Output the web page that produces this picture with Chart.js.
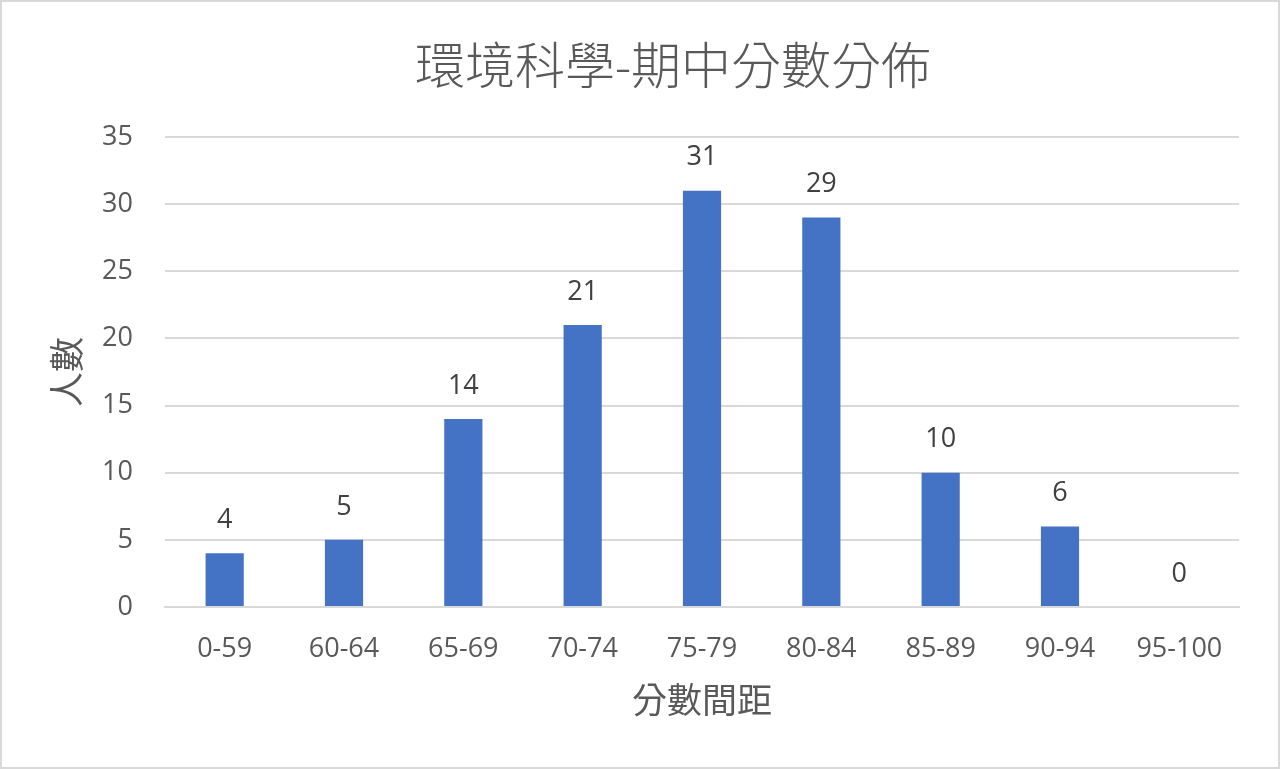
<!DOCTYPE html>
<html>
<head>
<meta charset="utf-8">
<script src="https://cdn.jsdelivr.net/npm/chart.js@4"></script>
<style>
  body { margin: 0; background: #fff; }
  .box { width: 1280px; height: 769px; box-sizing: border-box; border: 2px solid #d9d9d9; background: #fff; }
</style>
</head>
<body>
<div class="box"><canvas id="scoreChart"></canvas></div>
<script>
const categories = ['0-59', '60-64', '65-69', '70-74', '75-79', '80-84', '85-89', '90-94', '95-100']
const counts = [4, 5, 14, 21, 31, 29, 10, 6, 0]
const yTicks = [0, 5, 10, 15, 20, 25, 30, 35]
const chartTitle = '環境科學-期中分數分佈'

const fontFamily = '"Open Sans", "Noto Sans CJK TC", sans-serif'

// draws the number above each bar, like the excel data labels
const barLabels = {
    id: 'barLabels',
    afterDatasetsDraw(chart) {
        const ctx = chart.ctx
        const meta = chart.getDatasetMeta(0)
        ctx.save()
        ctx.font = '27px ' + fontFamily
        ctx.fillStyle = '#404040'
        ctx.textAlign = 'center'
        ctx.textBaseline = 'middle'
        meta.data.forEach((bar, i) => {
            ctx.fillText(counts[i], bar.x, bar.y - 33)
        })
        ctx.restore()
    }
}

// excel puts the title a bit left of the plot centre, so draw it by hand
const titleText = {
    id: 'titleText',
    afterDraw(chart) {
        const ctx = chart.ctx
        ctx.save()
        ctx.font = '300 50px ' + fontFamily
        ctx.fillStyle = '#595959'
        ctx.textAlign = 'center'
        ctx.textBaseline = 'middle'
        ctx.fillText(chartTitle, chart.width / 2 + 33, 68)
        ctx.restore()
    }
}

const ctx = document.querySelector('#scoreChart')
const chart = new Chart(ctx, {
    type: 'bar',
    data: {
        labels: categories,
        datasets: [{
            data: counts,
            backgroundColor: '#4472c4',
            borderWidth: 0,
            barPercentage: 0.32,
            categoryPercentage: 1
        }]
    },
    options: {
        responsive: true,
        maintainAspectRatio: false,
        animation: false,
        layout: { padding: { left: 47, right: 39, bottom: 43, top: 135 } },
        plugins: {
            legend: { display: false },
            tooltip: { enabled: false },
            title: { display: false }
        },
        scales: {
            x: {
                afterFit: scale => { scale.height = 117 },
                grid: { display: false, drawTicks: false },
                border: { display: true, color: '#d9d9d9', width: 2 },
                ticks: { color: '#595959', font: { size: 27, family: fontFamily }, padding: 26, maxRotation: 0 },
                title: {
                    display: true,
                    text: '分數間距',
                    color: '#595959',
                    font: { size: 35, family: fontFamily },
                    padding: { top: 0, bottom: 0 }
                }
            },
            y: {
                min: 0,
                max: 35,
                afterBuildTicks: scale => { scale.ticks = yTicks.map(v => ({ value: v })) },
                afterFit: scale => { scale.width = 116 },
                grid: { color: '#d9d9d9', lineWidth: 2, drawTicks: false },
                border: { display: false },
                ticks: { color: '#595959', font: { size: 27, family: fontFamily }, padding: 32 },
                title: {
                    display: true,
                    text: '人數',
                    color: '#595959',
                    font: { size: 35, family: fontFamily },
                    padding: { top: 0, bottom: 0 }
                }
            }
        }
    },
    plugins: [barLabels, titleText]
})
</script>
</body>
</html>
